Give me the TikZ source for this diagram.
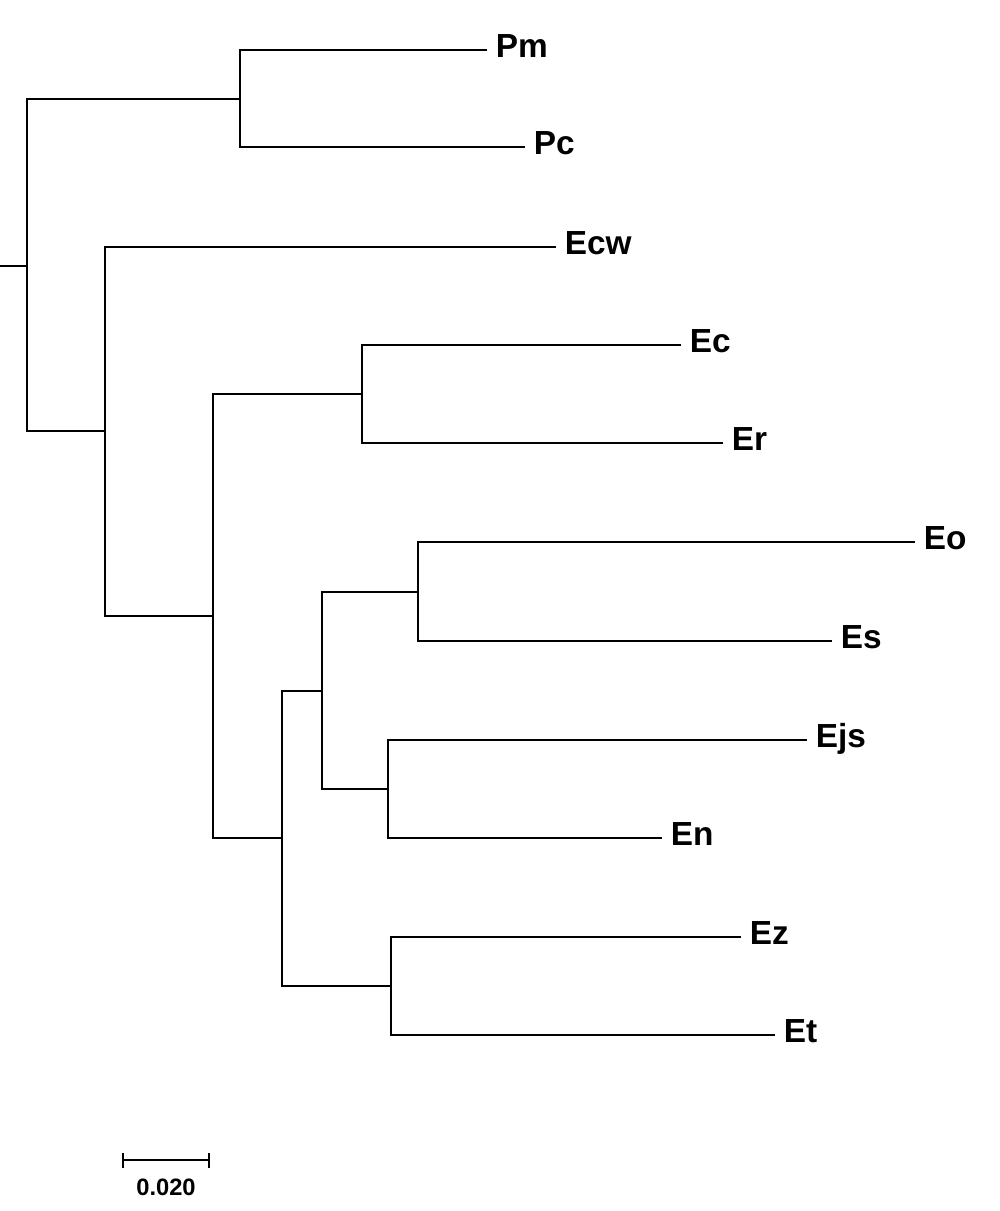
\documentclass[tikz,border=0pt]{standalone}
\usepackage{fontspec}
\setmainfont{Liberation Sans}
\begin{document}
\begin{tikzpicture}[x=0.02cm,y=-0.02cm,line width=1.1pt]
            \tikzset{leaf/.style={anchor=west,inner xsep=4.5pt,inner ysep=0pt,font=\fontsize{19}{19}\selectfont\bfseries,text height=13pt,text depth=4pt}}
            \useasboundingbox (0,0) rectangle (1000,1211);
            \coordinate (stub) at (0,266);
            \coordinate (root) at (27,266);
            \coordinate (pp) at (240,99);
            \coordinate (e1) at (105,431);
            \coordinate (e2) at (213,616);
            \coordinate (ecr) at (362,394);
            \coordinate (e3) at (282,838);
            \coordinate (e4) at (322,691);
            \coordinate (eos) at (418,592);
            \coordinate (ejn) at (388,789);
            \coordinate (ezt) at (391,986);
            \node [leaf] (Pm) at (487,50) {Pm};
            \node [leaf] (Pc) at (525,147) {Pc};
            \node [leaf] (Ecw) at (556,247) {Ecw};
            \node [leaf] (Ec) at (681,345) {Ec};
            \node [leaf] (Er) at (723,443) {Er};
            \node [leaf] (Eo) at (915,542) {Eo};
            \node [leaf] (Es) at (832,641) {Es};
            \node [leaf] (Ejs) at (807,740) {Ejs};
            \node [leaf] (En) at (662,838) {En};
            \node [leaf] (Ez) at (741,937) {Ez};
            \node [leaf] (Et) at (775,1035) {Et};
            \draw (stub) -- (root);
            \draw (root) |- (pp);
            \draw (root) |- (e1);
            \draw (pp) |- (Pm.west);
            \draw (pp) |- (Pc.west);
            \draw (e1) |- (Ecw.west);
            \draw (e1) |- (e2);
            \draw (e2) |- (ecr);
            \draw (e2) |- (e3);
            \draw (ecr) |- (Ec.west);
            \draw (ecr) |- (Er.west);
            \draw (e3) |- (e4);
            \draw (e3) |- (ezt);
            \draw (e4) |- (eos);
            \draw (e4) |- (ejn);
            \draw (eos) |- (Eo.west);
            \draw (eos) |- (Es.west);
            \draw (ejn) |- (Ejs.west);
            \draw (ejn) |- (En.west);
            \draw (ezt) |- (Ez.west);
            \draw (ezt) |- (Et.west);
            \coordinate (sbl) at (123,1160);
            \coordinate (sbr) at (209,1160);
            \draw (sbl) -- (sbr);
            \draw (sbl) ++(0,-7) -- ++(0,15);
            \draw (sbr) ++(0,-7) -- ++(0,15);
            \node [font=\fontsize{13.5}{13.5}\selectfont\bfseries,inner sep=0pt] (sblab) at (166,1187) {0.020};
\end{tikzpicture}
\end{document}
